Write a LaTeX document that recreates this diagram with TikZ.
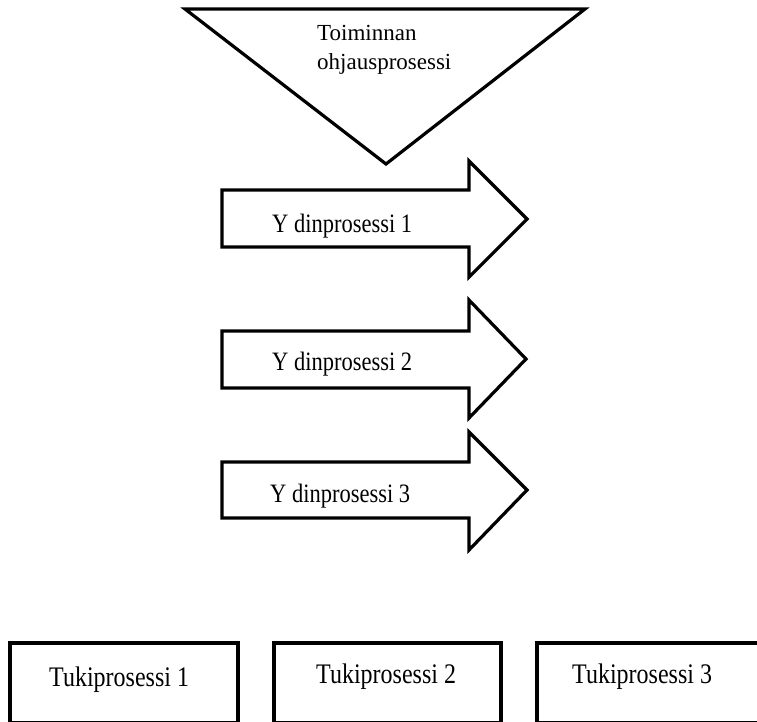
\documentclass[tikz,border=0pt]{standalone}
\usepackage{fontspec}
\setmainfont{Liberation Serif}
\newcommand\talltext[1]{\scalebox{1}[1.18]{#1}}
\begin{document}
\begin{tikzpicture}[x=1pt,y=-1pt,
  shapeline/.style={draw=black,line width=3.2pt,line join=miter,fill=white},
  lbl/.style={inner sep=0pt,anchor=base west,font=\fontsize{23}{27}\selectfont},
  albl/.style={inner sep=0pt,anchor=base west,font=\fontsize{22.5}{27}\selectfont},
  blbl/.style={inner sep=0pt,anchor=base west,font=\fontsize{24}{28}\selectfont}]
\useasboundingbox (0,0) rectangle (757,721);
\begin{scope}
\clip (0,0) rectangle (757,721);
% triangle
\draw[shapeline] (185,9) -- (585,9) -- (386,164) -- cycle;
\node[lbl] (t1) at (317,40) {Toiminnan};
\node[lbl] (t2) at (317,69) {ohjausprosessi};
% arrows
\draw[shapeline] (222,190) -- (469,190) -- (469,161) -- (527,219) -- (469,277) -- (469,247) -- (222,247) -- cycle;
\node[albl] (y1) at (272,232) {\talltext{Y dinprosessi 1}};
\draw[shapeline] (222,331) -- (469,331) -- (469,300) -- (526,359) -- (469,418) -- (469,388) -- (222,388) -- cycle;
\node[albl] (y2) at (272,370) {\talltext{Y dinprosessi 2}};
\draw[shapeline] (222,462) -- (469,462) -- (469,432) -- (527,490) -- (469,550) -- (469,518) -- (222,518) -- cycle;
\node[albl] (y3) at (270,502) {\talltext{Y dinprosessi 3}};
% boxes
\draw[shapeline] (10,643) rectangle (238,723);
\node[blbl] (k1) at (49,686) {\talltext{Tukiprosessi 1}};
\draw[shapeline] (274,643) rectangle (501,723);
\node[blbl] (k2) at (316,683) {\talltext{Tukiprosessi 2}};
\draw[shapeline] (537,643) rectangle (766,723);
\node[blbl] (k3) at (572,683) {\talltext{Tukiprosessi 3}};
\end{scope}
\end{tikzpicture}
\end{document}
